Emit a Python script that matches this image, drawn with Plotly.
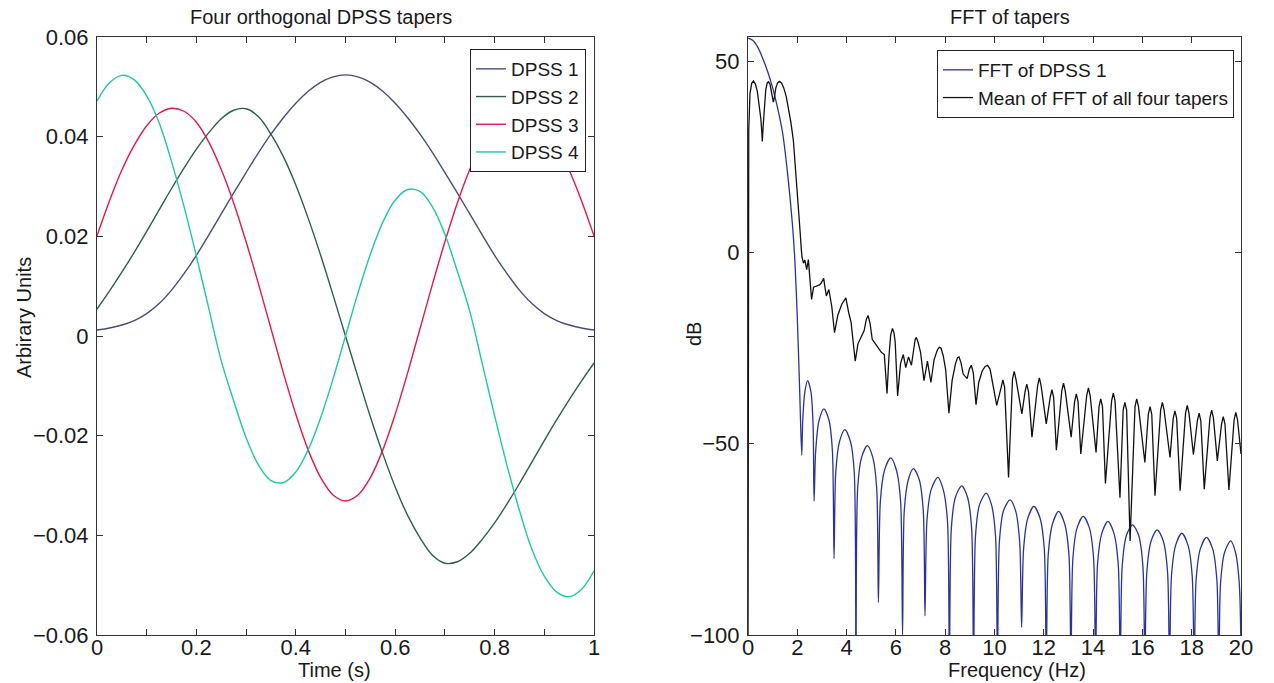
import plotly.graph_objects as go

# ---------------- data: left panel (DPSS tapers) ----------------
time_s = [0.000, 0.025, 0.050, 0.075, 0.100, 0.125, 0.150, 0.175, 0.200, 0.225, 0.250,
          0.275, 0.300, 0.325, 0.350, 0.375, 0.400, 0.425, 0.450, 0.475, 0.500,
          0.525, 0.550, 0.575, 0.600, 0.625, 0.650, 0.675, 0.700, 0.725, 0.750,
          0.775, 0.800, 0.825, 0.850, 0.875, 0.900, 0.925, 0.950, 0.975, 1.000]
dpss1 = [0.0012, 0.0016, 0.0022, 0.0031, 0.0045, 0.0065, 0.0092, 0.0125, 0.0162, 0.0203, 0.0245,
         0.0287, 0.0328, 0.0368, 0.0405, 0.0438, 0.0467, 0.0491, 0.0509, 0.0520, 0.0524,
         0.0520, 0.0509, 0.0491, 0.0467, 0.0438, 0.0405, 0.0368, 0.0328, 0.0287, 0.0245,
         0.0203, 0.0162, 0.0125, 0.0092, 0.0065, 0.0045, 0.0031, 0.0022, 0.0016, 0.0012]
dpss2 = [0.0054, 0.0090, 0.0128, 0.0168, 0.0210, 0.0253, 0.0296, 0.0337, 0.0375, 0.0408, 0.0436,
         0.0453, 0.0456, 0.0440, 0.0405, 0.0360, 0.0303, 0.0236, 0.0162, 0.0082, 0.0000,
         -0.0082, -0.0162, -0.0236, -0.0303, -0.0360, -0.0405, -0.0440, -0.0456, -0.0453, -0.0436,
         -0.0408, -0.0375, -0.0337, -0.0296, -0.0253, -0.0210, -0.0168, -0.0128, -0.0090, -0.0054]
dpss3 = [0.0201, 0.0271, 0.0333, 0.0383, 0.0422, 0.0447, 0.0457, 0.0451, 0.0429, 0.0389, 0.0334,
         0.0267, 0.0189, 0.0104, 0.0015, -0.0074, -0.0157, -0.0229, -0.0284, -0.0319, -0.0331,
         -0.0319, -0.0284, -0.0229, -0.0157, -0.0074, 0.0015, 0.0104, 0.0189, 0.0267, 0.0334,
         0.0389, 0.0429, 0.0451, 0.0457, 0.0447, 0.0422, 0.0383, 0.0333, 0.0271, 0.0201]
dpss4 = [0.0471, 0.0508, 0.0523, 0.0514, 0.0482, 0.0428, 0.0350, 0.0260, 0.0160, 0.0055, -0.0050,
         -0.0130, -0.0204, -0.0259, -0.0290, -0.0294, -0.0273, -0.0228, -0.0164, -0.0086, 0.0000,
         0.0086, 0.0164, 0.0228, 0.0273, 0.0294, 0.0290, 0.0259, 0.0204, 0.0130, 0.0050,
         -0.0055, -0.0160, -0.0260, -0.0350, -0.0428, -0.0482, -0.0514, -0.0523, -0.0508, -0.0471]
taper_names = ["DPSS 1", "DPSS 2", "DPSS 3", "DPSS 4"]

# ---------------- data: right panel (FFT of tapers, dB) ----------------
fft1_freq = [0, 0.2, 0.4, 0.6, 0.8, 1.0, 1.2, 1.4, 1.6, 1.8, 1.9, 2.0, 2.1, 2.18,
             2.22, 2.305, 2.42, 2.555, 2.64, 2.68,
             2.745, 2.88, 3.08, 3.29, 3.425, 3.49,
             3.56, 3.71, 3.93, 4.16, 4.31, 4.38,
             4.45, 4.61, 4.84, 5.06, 5.22, 5.29,
             5.37, 5.535, 5.79, 6.025, 6.19, 6.27,
             6.34, 6.5, 6.71, 6.95, 7.11, 7.18,
             7.26, 7.43, 7.70, 7.92, 8.09, 8.17,
             8.25, 8.415, 8.67, 8.905, 9.07, 9.15,
             9.23, 9.39, 9.66, 9.88, 10.04, 10.12,
             10.2, 10.365, 10.63, 10.855, 11.02, 11.1,
             11.18, 11.35, 11.6, 11.85, 12.02, 12.1,
             12.18, 12.35, 12.6, 12.85, 13.02, 13.1,
             13.18, 13.35, 13.6, 13.85, 14.02, 14.1,
             14.18, 14.35, 14.6, 14.85, 15.02, 15.1,
             15.18, 15.35, 15.6, 15.85, 16.02, 16.1,
             16.18, 16.35, 16.6, 16.85, 17.02, 17.1,
             17.18, 17.35, 17.6, 17.85, 18.02, 18.1,
             18.18, 18.35, 18.6, 18.85, 19.02, 19.1,
             19.17, 19.33, 19.58, 19.78, 19.93, 20.0]
fft1_db = [56.0, 55.4, 53.6, 50.7, 47.2, 43.0, 37.8, 31.4, 21.0, 7.5, -2.0, -17.0, -37.0, -53.0,
           -44.0, -36.5, -33.5, -36.5, -45.0, -65.0,
           -52.0, -44.0, -40.9, -44.0, -52.0, -80.0,
           -57.5, -49.5, -46.3, -49.5, -57.5, -110.0,
           -61.5, -53.5, -50.5, -53.5, -61.5, -91.5,
           -65.0, -57.0, -53.7, -57.0, -65.0, -100.0,
           -67.5, -59.5, -56.5, -59.5, -67.5, -95.0,
           -70.0, -62.0, -58.8, -62.0, -70.0, -110.0,
           -72.0, -64.0, -61.0, -64.0, -72.0, -110.0,
           -74.0, -66.0, -62.9, -66.0, -74.0, -110.0,
           -75.5, -67.5, -64.7, -67.5, -75.5, -98.0,
           -77.5, -69.5, -66.4, -69.5, -77.5, -110.0,
           -79.0, -71.0, -67.7, -71.0, -79.0, -110.0,
           -80.0, -72.0, -69.0, -72.0, -80.0, -110.0,
           -81.5, -73.5, -70.3, -73.5, -81.5, -110.0,
           -82.0, -74.0, -71.2, -74.0, -82.0, -110.0,
           -83.5, -75.5, -72.5, -75.5, -83.5, -110.0,
           -84.5, -76.5, -73.4, -76.5, -84.5, -110.0,
           -85.5, -77.5, -74.5, -77.5, -85.5, -110.0,
           -86.5, -78.5, -75.4, -78.5, -86.5, -105.0]

mean_freq = [0.0, 0.03, 0.08, 0.15, 0.22, 0.30, 0.38, 0.46, 0.52, 0.56, 0.58, 0.61, 0.66, 0.72, 0.78,
             0.83, 0.89, 0.95, 1.00, 1.03, 1.07, 1.13, 1.20, 1.28, 1.36, 1.45, 1.55, 1.64, 1.74,
             1.84, 1.92, 2.00, 2.06, 2.11, 2.16, 2.19, 2.25, 2.31, 2.38, 2.45, 2.52, 2.58, 2.66,
             2.78, 2.90, 2.97, 3.07, 3.12, 3.18, 3.28, 3.40, 3.51, 3.64, 3.80, 3.90, 3.97, 4.09,
             4.18, 4.35, 4.46, 4.60, 4.71, 4.80, 4.87, 4.95, 5.04, 5.17, 5.28, 5.41, 5.53, 5.64,
             5.72, 5.79, 5.86, 5.92, 5.97, 6.07, 6.19, 6.30, 6.40, 6.51, 6.63, 6.72, 6.78, 6.83,
             6.90, 7.00, 7.14, 7.28, 7.42, 7.55, 7.68, 7.76, 7.83, 7.92, 8.02, 8.15, 8.28, 8.42,
             8.50, 8.56, 8.64, 8.73, 8.89, 8.98, 9.06, 9.14, 9.25, 9.36, 9.50, 9.62, 9.72, 9.82,
             9.95, 10.09, 10.27, 10.34, 10.41, 10.57, 10.73, 10.80, 10.87, 11.11, 11.24, 11.31,
             11.38, 11.52, 11.75, 11.82, 11.89, 12.10, 12.26, 12.33, 12.40, 12.51, 12.73, 12.80,
             12.87, 13.11, 13.25, 13.32, 13.39, 13.50, 13.74, 13.81, 13.88, 14.12, 14.24, 14.31,
             14.38, 14.50, 14.75, 14.82, 14.89, 15.09, 15.22, 15.29, 15.36, 15.50, 15.70, 15.77,
             15.84, 16.10, 16.24, 16.31, 16.38, 16.51, 16.74, 16.81, 16.88, 17.12, 17.25, 17.32,
             17.39, 17.53, 17.75, 17.82, 17.89, 18.07, 18.23, 18.30, 18.37, 18.51, 18.74, 18.81,
             18.88, 19.04, 19.21, 19.28, 19.35, 19.51, 19.72, 19.79, 19.86, 20.00]
mean_db = [-110.0, 32.0, 41.5, 44.2, 44.8, 44.0, 42.0, 38.5, 35.0, 31.5, 29.0, 32.5, 38.0, 42.5, 44.3,
           44.6, 44.0, 42.0, 39.8, 39.3, 40.5, 43.0, 44.3, 44.7, 44.3, 43.0, 40.8, 38.0, 34.0,
           29.3, 23.0, 16.2, 10.5, 5.8, 1.0, -1.2, -2.8, -2.0, -4.5, -1.9, -7.5, -12.3, -9.1,
           -8.8, -8.5, -8.0, -6.8, -9.0, -11.4, -9.7, -14.2, -21.0, -16.5, -13.6, -12.5, -11.9, -15.9,
           -18.2, -28.4, -23.9, -22.0, -20.5, -17.5, -16.5, -18.5, -22.7, -23.9, -25.0, -26.1, -26.7, -36.9,
           -27.0, -21.5, -19.9, -21.0, -23.3, -37.5, -29.0, -26.7, -30.1, -27.3, -29.5, -25.0, -22.8, -22.2,
           -23.5, -26.1, -33.5, -28.4, -34.0, -28.0, -25.5, -24.8, -25.0, -27.0, -30.7, -42.0, -33.5, -29.0,
           -27.5, -27.3, -28.8, -31.8, -33.0, -30.5, -29.5, -31.5, -39.8, -34.0, -31.0, -29.8, -29.5, -30.5,
           -35.0, -40.0, -35.3, -33.3, -35.3, -58.8, -33.1, -31.1, -33.1, -42.2, -36.4, -34.4,
           -36.4, -48.3, -34.8, -32.8, -34.8, -44.8, -37.9, -35.9, -37.9, -51.7, -36.2, -34.2,
           -36.2, -48.3, -39.0, -37.0, -39.0, -52.7, -37.4, -35.4, -37.4, -52.3, -40.3, -38.3,
           -40.3, -60.4, -38.8, -36.8, -38.8, -64.1, -41.2, -39.2, -41.2, -75.4, -40.3, -38.3,
           -40.3, -54.9, -42.3, -40.3, -42.3, -63.6, -41.2, -39.2, -41.2, -53.6, -43.4, -41.4,
           -43.4, -62.3, -42.0, -40.0, -42.0, -52.9, -44.0, -42.0, -44.0, -61.9, -43.2, -41.2,
           -43.2, -54.5, -44.9, -42.9, -44.9, -62.1, -43.8, -41.8, -43.8, -52.7]

# ---------------- styling ----------------
W, H = 1274, 683
FONT = "Liberation Sans, Arial, Helvetica, sans-serif"
TXT = "#1a1a1a"
AX = "#333333"
taper_colors = ["#484d7a", "#2e5e4e", "#e3194c", "#20c9a0"]
fft_color = "#2a339c"
mean_color = "#111111"


def px_x(p):
    return p / W


def px_y(p):
    return 1 - p / H


fig = go.Figure()

for name, vals, col in zip(taper_names, [dpss1, dpss2, dpss3, dpss4], taper_colors):
    fig.add_trace(go.Scatter(x=time_s, y=vals, mode="lines", name=name,
                             line=dict(color=col, width=1.4, shape="spline", smoothing=1.0),
                             xaxis="x", yaxis="y", legend="legend"))

fig.add_trace(go.Scatter(x=fft1_freq, y=fft1_db, mode="lines", name="FFT of DPSS 1",
                         line=dict(color=fft_color, width=1.3, shape="spline", smoothing=0.8),
                         xaxis="x2", yaxis="y2", legend="legend2"))
fig.add_trace(go.Scatter(x=mean_freq, y=mean_db, mode="lines", name="Mean of FFT of all four tapers",
                         line=dict(color=mean_color, width=1.3),
                         xaxis="x2", yaxis="y2", legend="legend2"))

common_axis = dict(showline=True, linecolor=AX, linewidth=1, mirror="ticks", ticks="inside",
                   ticklen=6, tickcolor=AX, tickwidth=1, showgrid=False, zeroline=False,
                   tickfont=dict(family=FONT, size=22, color=TXT), automargin=False)

y_lo, y_hi = (683 - 635) / H, (683 - 37) / H

fig.update_layout(
    width=W, height=H,
    margin=dict(l=0, r=0, t=0, b=0),
    paper_bgcolor="white", plot_bgcolor="white",
    font=dict(family=FONT, size=20, color=TXT),
    xaxis=dict(domain=[px_x(97), px_x(594)], range=[0, 1], dtick=0.2, tick0=0,
               minor=dict(dtick=0.1, ticks="inside", ticklen=6, tickcolor=AX), anchor="y",
               ticklabelstandoff=-7, **common_axis),
    yaxis=dict(domain=[y_lo, y_hi], range=[-0.06, 0.06], dtick=0.02, tick0=0, anchor="x",
               ticklabelstandoff=3, **common_axis),
    xaxis2=dict(domain=[px_x(748), px_x(1241)], range=[0, 20], dtick=2, tick0=0, anchor="y2",
                ticklabelstandoff=-7, **common_axis),
    yaxis2=dict(domain=[y_lo, y_hi], range=[-100, 56.3], dtick=50, tick0=0, anchor="x2",
                ticklabelstandoff=3, **common_axis),
    legend=dict(x=px_x(586), xanchor="right", y=px_y(49), yanchor="top",
                bgcolor="white", bordercolor="#222", borderwidth=1,
                font=dict(family=FONT, size=19, color=TXT), tracegroupgap=0),
    legend2=dict(x=px_x(1234), xanchor="right", y=px_y(50), yanchor="top",
                 bgcolor="white", bordercolor="#222", borderwidth=1,
                 font=dict(family=FONT, size=19, color=TXT), tracegroupgap=0),
    showlegend=True,
)

annos = [
    dict(text="Four orthogonal DPSS tapers", x=px_x(321), y=px_y(17)),
    dict(text="FFT of tapers", x=px_x(1010), y=px_y(17)),
    dict(text="Time (s)", x=px_x(334), y=px_y(670)),
    dict(text="Frequency (Hz)", x=px_x(1017), y=px_y(670)),
    dict(text="Arbirary Units", x=px_x(24), y=px_y(318), textangle=-90),
    dict(text="dB", x=px_x(694), y=px_y(334), textangle=-90),
]
for a in annos:
    fig.add_annotation(xref="paper", yref="paper", xanchor="center", yanchor="middle",
                       showarrow=False, font=dict(family=FONT, size=20, color=TXT), **a)

fig.write_html("out.html")
